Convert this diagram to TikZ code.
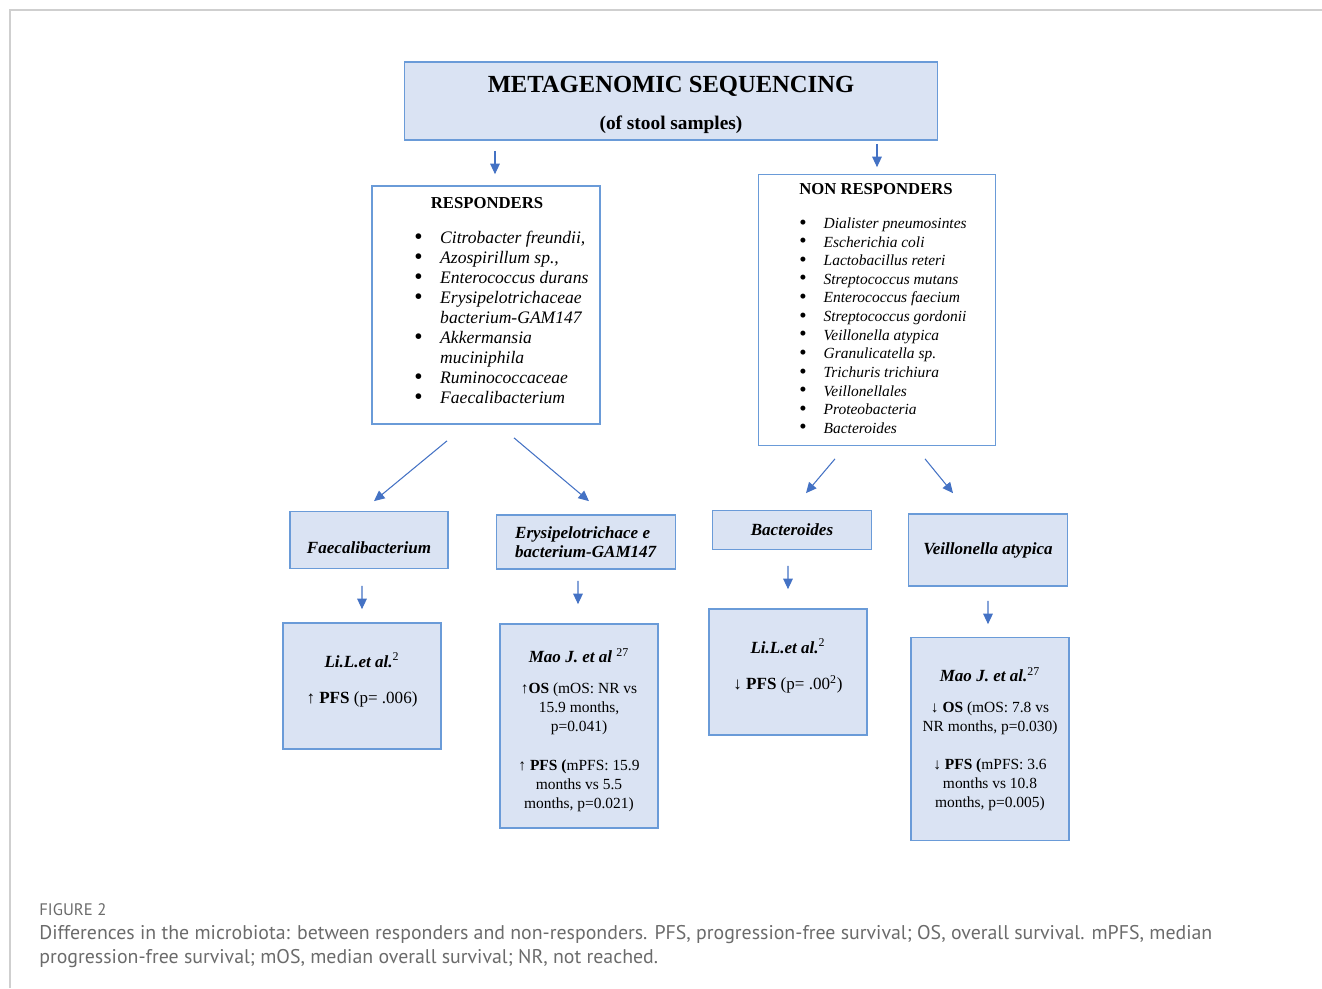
\documentclass[tikz,border=0pt]{standalone}
\usepackage{fontspec}
\setmainfont{Liberation Serif}
\newfontfamily\capfont{PT Sans}
\usepackage{xcolor}
\usetikzlibrary{arrows.meta}

\definecolor{boxblue}{HTML}{DAE3F3}
\definecolor{boxline}{HTML}{6A9BD8}
\definecolor{arrowblue}{HTML}{4472C4}
\definecolor{capgrey}{HTML}{6B6B6B}
\definecolor{framegrey}{HTML}{CFCFCF}

\newcommand{\bigbul}{\raisebox{-0.1ex}{\scalebox{1.35}{\textbullet}}}
\newcommand{\bodysize}{\fontsize{8.8}{10.8}\selectfont}
\newcommand{\headsize}{\fontsize{9.7}{10.8}\selectfont}

\tikzset{
  bluebox/.style={draw=boxline, fill=boxblue, line width=1pt, inner sep=0pt, align=center,
    font=\headsize},
  listbox/.style={draw=boxline, fill=white, line width=1pt, inner sep=0pt},
  boxtitle/.style={font=\fontsize{9.5}{11}\selectfont\bfseries, inner sep=0pt},
  flow/.style={arrowblue, line width=0.6pt, -{Triangle[length=6pt,width=5.5pt]}}
}

\begin{document}
\begin{tikzpicture}[x=0.02cm, y=-0.02cm]
\useasboundingbox (0,0) rectangle (1322,988);

% frame
\draw[framegrey, line width=0.8pt] (10,988) -- (10,10) -- (1322,10);

% top box
\node[bluebox, minimum width=10.66cm, minimum height=1.56cm] (meta) at (671,101)
  {\rule{0pt}{0.48cm}\fontsize{14}{16}\selectfont\bfseries METAGENOMIC SEQUENCING\\[10pt]
   \fontsize{11}{12}\selectfont\bfseries (of stool samples)};

% responders
\node[listbox, minimum width=4.56cm, minimum height=4.76cm] (resp) at (486,305) {};
\node[boxtitle] (resptitle) at (487,203) {RESPONDERS};
\node[anchor=north west, inner sep=0pt, font=\fontsize{10}{11.4}\selectfont] (resplist) at (414,229)
  {\begin{tabular}{@{}l@{\hspace{1.0em}}l@{}}
   \bigbul & \textit{Citrobacter freundii,}\\
   \bigbul & \textit{Azospirillum sp.,}\\
   \bigbul & \textit{Enterococcus durans}\\
   \bigbul & \textit{Erysipelotrichaceae}\\
           & \textit{bacterium-GAM147}\\
   \bigbul & \textit{Akkermansia}\\
           & \textit{muciniphila}\\
   \bigbul & \textit{Ruminococcaceae}\\
   \bigbul & \textit{Faecalibacterium}
   \end{tabular}};

% non responders
\node[listbox, minimum width=4.74cm, minimum height=5.42cm] (nonresp) at (877,310) {};
\node[boxtitle] (nonresptitle) at (876,189) {NON RESPONDERS};
\node[anchor=north west, inner sep=0pt, font=\fontsize{8.8}{10.6}\selectfont] (nonresplist) at (799,215)
  {\begin{tabular}{@{}l@{\hspace{1.1em}}l@{}}
   \bigbul & \textit{Dialister pneumosintes}\\
   \bigbul & \textit{Escherichia coli}\\
   \bigbul & \textit{Lactobacillus reteri}\\
   \bigbul & \textit{Streptococcus mutans}\\
   \bigbul & \textit{Enterococcus faecium}\\
   \bigbul & \textit{Streptococcus gordonii}\\
   \bigbul & \textit{Veillonella atypica}\\
   \bigbul & \textit{Granulicatella sp.}\\
   \bigbul & \textit{Trichuris trichiura}\\
   \bigbul & \textit{Veillonellales}\\
   \bigbul & \textit{Proteobacteria}\\
   \bigbul & \textit{Bacteroides}
   \end{tabular}};

% second row
\node[bluebox, minimum width=3.16cm, minimum height=1.14cm] (faecal) at (369,540)
  {\rule{0pt}{0.56cm}\textbf{\textit{Faecalibacterium}}};
\node[bluebox, minimum width=3.58cm, minimum height=1.08cm, align=left] (erysip) at (586,542)
  {\textbf{\textit{Erysipelotrichace e}}\\\textbf{\textit{bacterium-GAM147}}};
\node[bluebox, minimum width=3.18cm, minimum height=0.78cm] (bacter) at (792,530)
  {\textbf{\textit{Bacteroides}}};
\node[bluebox, minimum width=3.18cm, minimum height=1.44cm] (veill) at (988,550)
  {\textbf{\textit{Veillonella atypica}}};

% third row
\node[bluebox, minimum width=3.16cm, minimum height=2.52cm] (lia) at (362,686)
  {\textbf{\textit{Li.L.et al.}}\textsuperscript{2}\\[10pt]
   ↑ \textbf{PFS} (p= .006)\\[-2pt]};
\node[bluebox, font=\bodysize, minimum width=3.16cm, minimum height=4.08cm] (maoa) at (579,726)
  {{\headsize\rule{0pt}{0.44cm}\textbf{\textit{Mao J. et al}} \textsuperscript{27}}\\[7pt]
   ↑\textbf{OS} (mOS: NR vs\\ 15.9 months,\\ p=0.041)\\[11pt]
   ↑ \textbf{PFS (}mPFS: 15.9\\ months vs 5.5\\ months, p=0.021)};
\node[bluebox, minimum width=3.16cm, minimum height=2.52cm] (lib) at (788,672)
  {\textbf{\textit{Li.L.et al.}}\textsuperscript{2}\\[10pt]
   ↓ \textbf{PFS} (p= .00\textsuperscript{2})\\[-2pt]};
\node[bluebox, font=\bodysize, minimum width=3.16cm, minimum height=4.06cm] (maob) at (990,739)
  {{\headsize\textbf{\textit{Mao J. et al.}}\textsuperscript{27}}\\[7pt]
   ↓ \textbf{OS} (mOS: 7.8 vs\\ NR months, p=0.030)\\[10.5pt]
   ↓ \textbf{PFS (}mPFS: 3.6\\ months vs 10.8\\ months, p=0.005)};

% connectors
\draw[flow] ([xshift=0.18cm, yshift=-0.2cm]meta.south -| resp.north) -- ([xshift=0.18cm, yshift=0.22cm]resp.north);
\draw[flow] ([yshift=-0.06cm]meta.south -| nonresp.north) -- ([yshift=0.13cm]nonresp.north);
\draw[flow] ([xshift=-0.78cm, yshift=-0.32cm]resp.south) -- ([xshift=0.1cm, yshift=0.19cm]faecal.north);
\draw[flow] ([xshift=0.56cm, yshift=-0.26cm]resp.south) -- ([xshift=0.06cm, yshift=0.26cm]erysip.north);
\draw[flow] ([xshift=-0.84cm, yshift=-0.25cm]nonresp.south) -- ([xshift=0.28cm, yshift=0.33cm]bacter.north);
\draw[flow] ([xshift=0.96cm, yshift=-0.25cm]nonresp.south) -- ([xshift=-0.7cm, yshift=0.4cm]veill.north);
\draw[flow] ([xshift=-0.14cm, yshift=-0.33cm]faecal.south) -- ([yshift=0.26cm]lia.north);
\draw[flow] ([xshift=-0.16cm, yshift=-0.22cm]erysip.south) -- ([xshift=-0.02cm, yshift=0.38cm]maoa.north);
\draw[flow] ([xshift=-0.08cm, yshift=-0.31cm]bacter.south) -- ([yshift=0.38cm]lib.north);
\draw[flow] ([yshift=-0.28cm]veill.south) -- ([xshift=-0.04cm, yshift=0.25cm]maob.north);

% caption
\node[anchor=west, inner sep=0pt, text=capgrey, font=\capfont\fontsize{9.5}{11}\selectfont] (figlabel) at (39,910) {FIGURE 2};
\node[anchor=north west, inner sep=0pt, text=capgrey, align=left, font=\capfont\fontsize{11.3}{13.6}\selectfont] (caption) at (39,925)
  {Differences in the microbiota: between responders and non-responders. PFS, progression-free survival; OS, overall survival. mPFS, median\\
   progression-free survival; mOS, median overall survival; NR, not reached.};
\end{tikzpicture}
\end{document}
